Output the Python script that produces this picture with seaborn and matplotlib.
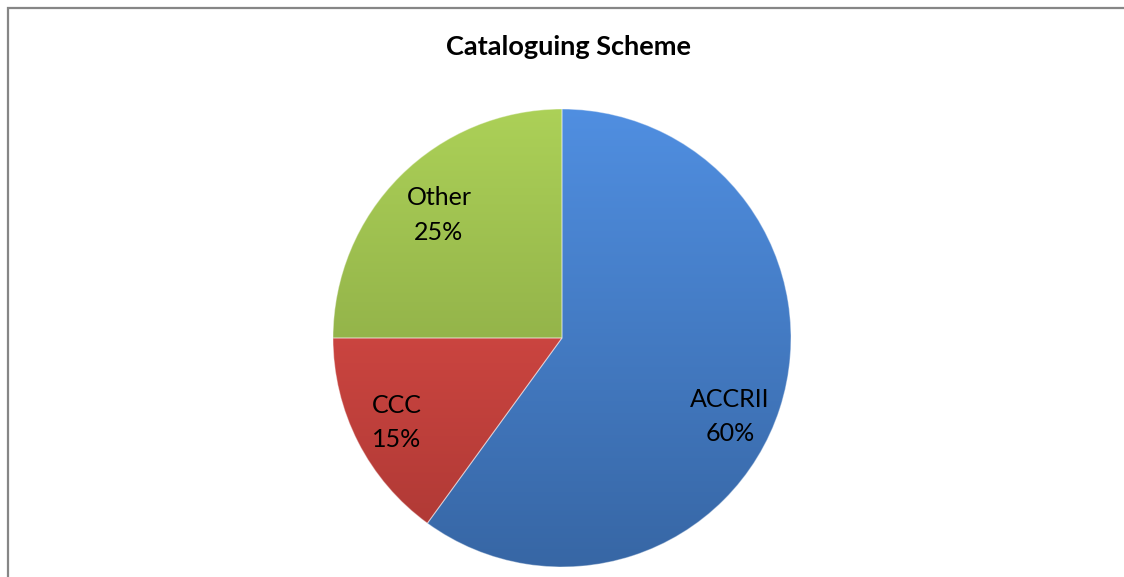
import numpy as np
import matplotlib
matplotlib.use("Agg")
import matplotlib.pyplot as plt
import matplotlib.colors as mcolors
from matplotlib.patches import Rectangle
import seaborn as sns

# data
schemes = ["ACCRII", "CCC", "Other"]
shares = [60, 15, 25]
slice_colors = ["#437DC9", "#D1443F", "#98BA4A"]

sns.set_theme(style="white")
plt.rcParams['font.family'] = ['Lato', 'DejaVu Sans']

fig = plt.figure(figsize=(11.24, 5.77), dpi=100)
W, H = 1124, 577
cx, cy, R = 562, 338, 229
ax = fig.add_axes([(cx - R) / W, (H - cy - R) / H, 2 * R / W, 2 * R / H])

wedges, texts, autotexts = ax.pie(
    shares,
    colors=slice_colors,
    startangle=90,
    counterclock=False,
    autopct=lambda p: "",
    pctdistance=0.79,
    wedgeprops=dict(linewidth=0.8, edgecolor="#ffffff60"),
)

# label placement inside each slice (radius fraction, angle shift in degrees)
label_r = [0.81, 0.81, 0.76]
label_shift = [-7, 0, 0]

for w, name, val, at, r, sh in zip(wedges, schemes, shares, autotexts, label_r, label_shift):
    ang = np.deg2rad((w.theta1 + w.theta2) / 2 + sh)
    at.set_position((r * np.cos(ang), r * np.sin(ang)))
    at.set_text(f"{name}\n{val}%")
    at.set_fontsize(18)
    at.set_color("black")
    at.set_linespacing(1.6)

# simple vertical gradient on each slice (lighter at top, darker at bottom)
grad = np.linspace(1, 0, 256).reshape(-1, 1)
for w, c in zip(wedges, slice_colors):
    base = np.array(mcolors.to_rgb(c))
    top = np.clip(base * 1.08 + 0.03, 0, 1)
    bot = base * 0.82
    img = top[None, None, :] * grad[:, :, None] + bot[None, None, :] * (1 - grad[:, :, None])
    im = ax.imshow(img, extent=(-1, 1, -1, 1), aspect="auto", zorder=w.get_zorder() + 0.1)
    im.set_clip_path(w)
    w.set_facecolor("none")
    w.set_zorder(w.get_zorder() + 0.2)

for at in autotexts:
    at.set_zorder(10)

ax.set_xlim(-1.0, 1.0)
ax.set_ylim(-1.0, 1.0)
ax.set_aspect("equal")
ax.axis("off")

fig.text(568 / W, 1 - 47 / H, "Cataloguing Scheme", ha="center", va="center",
         fontsize=19.5, fontweight="bold", color="black")

# chart frame (only left and top edges visible in the crop)
fig.add_artist(Rectangle((8 / W, -0.1), 1.2, 1.1 - 8 / H, transform=fig.transFigure,
                         fill=False, edgecolor="#868686", linewidth=1.6))

fig.savefig("out.png", dpi=100)
